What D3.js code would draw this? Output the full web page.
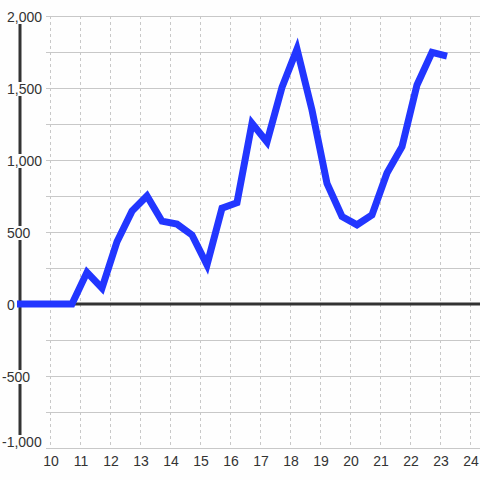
<!DOCTYPE html>
<html>
<head>
<meta charset="utf-8">
<script src="https://cdn.jsdelivr.net/npm/d3@7"></script>
<style>
  body { margin: 0; background: #fff; }
  text { font-family: "Liberation Sans", Arial, sans-serif; font-size: 14px; fill: #333; }
</style>
</head>
<body>
<div id="chart"></div>
<script>
// hour of day (decimal) for each sample, every half hour
var hours = [8.733, 9.233, 9.733, 10.233, 10.733, 11.233, 11.733, 12.233, 12.733, 13.233,
             13.733, 14.233, 14.733, 15.233, 15.733, 16.233, 16.733, 17.233, 17.733, 18.233,
             18.733, 19.233, 19.733, 20.233, 20.733, 21.233, 21.733, 22.233, 22.733, 23.233];
var values = [0, 0, 0, 0, 0, 220, 110, 432, 645, 750,
              575, 555, 479, 272, 665, 703, 1255, 1125, 1505, 1770,
              1347, 838, 608, 550, 618, 910, 1092, 1521, 1748, 1722];

var xTicks = [10, 11, 12, 13, 14, 15, 16, 17, 18, 19, 20, 21, 22, 23, 24];
var yTicks = [-1000, -500, 0, 500, 1000, 1500, 2000];
var yGrid = [-750, -500, -250, 0, 250, 500, 750, 1000, 1250, 1500, 1750, 2000];

var data = hours.map(function(h, i) { return {hour: h, value: values[i]}; });

var width = 480, height = 480;

// scales
var xScale = d3.scaleLinear().domain([9, 24]).range([20, 470]);
var yScale = d3.scaleLinear().domain([-1000, 2000]).range([448, 16]);
// plain hyphen for the minus sign
var fmt = d3.formatLocale({decimal: ".", thousands: ",", grouping: [3], currency: ["$", ""], minus: "-"}).format(",");

var svg = d3.select("#chart").append("svg")
  .attr("width", width)
  .attr("height", height);

svg.append("rect")
  .attr("width", width).attr("height", height)
  .attr("fill", "#fefefe");

svg.append("defs").append("clipPath")
  .attr("id", "clip")
  .append("rect")
  .attr("x", xScale(9) - 3)
  .attr("y", 0)
  .attr("width", width)
  .attr("height", height);

// vertical dashed gridlines
svg.append("g").selectAll("line")
  .data(xTicks)
  .enter().append("line")
  .attr("x1", function(d) { return xScale(d) + 0.5; })
  .attr("x2", function(d) { return xScale(d) + 0.5; })
  .attr("y1", yScale(2000))
  .attr("y2", yScale(-1000))
  .attr("stroke", "#c8c8c8")
  .attr("stroke-dasharray", "3,3");

// horizontal gridlines
svg.append("g").selectAll("line")
  .data(yGrid)
  .enter().append("line")
  .attr("x1", 46)
  .attr("x2", width)
  .attr("y1", function(d) { return yScale(d) + 0.5; })
  .attr("y2", function(d) { return yScale(d) + 0.5; })
  .attr("stroke", "#c8c8c8");

// bottom line
svg.append("line")
  .attr("x1", 46).attr("x2", width)
  .attr("y1", yScale(-1000) + 0.5).attr("y2", yScale(-1000) + 0.5)
  .attr("stroke", "#c8c8c8");

// zero line
svg.append("line")
  .attr("x1", xScale(9)).attr("x2", width)
  .attr("y1", yScale(0)).attr("y2", yScale(0))
  .attr("stroke", "#333")
  .attr("stroke-width", 3);

// vertical axis line
svg.append("line")
  .attr("x1", xScale(9)).attr("x2", xScale(9))
  .attr("y1", yScale(2000)).attr("y2", yScale(-1000))
  .attr("stroke", "#333")
  .attr("stroke-width", 3);

// y labels with white boxes (left aligned, minus sign hangs out)
var yLab = svg.append("g").selectAll("g")
  .data(yTicks)
  .enter().append("g")
  .attr("transform", function(d) { return "translate(0," + Math.min(yScale(d) + 1, 442) + ")"; });

var yBox = yLab.append("rect")
  .attr("y", -7)
  .attr("height", 14)
  .attr("fill", "#fefefe");

var yText = yLab.append("text")
  .attr("x", function(d) { return d < 0 ? 2 : 7; })
  .attr("dy", "0.36em")
  .text(function(d) { return fmt(d); });

yText.each(function(d, i) {
  var bb = this.getBBox();
  d3.select(yBox.nodes()[i])
    .attr("x", bb.x - 1)
    .attr("width", bb.width + 2);
});

// x labels
svg.append("g").selectAll("text")
  .data(xTicks)
  .enter().append("text")
  .attr("x", function(d) { return xScale(d) + 1; })
  .attr("y", 461)
  .attr("dy", "0.36em")
  .attr("text-anchor", "middle")
  .text(function(d) { return d; });

// the line
var valueline = d3.line()
  .x(function(d) { return xScale(d.hour); })
  .y(function(d) { return yScale(d.value); });

svg.append("path")
  .attr("clip-path", "url(#clip)")
  .attr("d", valueline(data))
  .attr("fill", "none")
  .attr("stroke", "#2236ff")
  .attr("stroke-width", 7);
</script>
</body>
</html>
